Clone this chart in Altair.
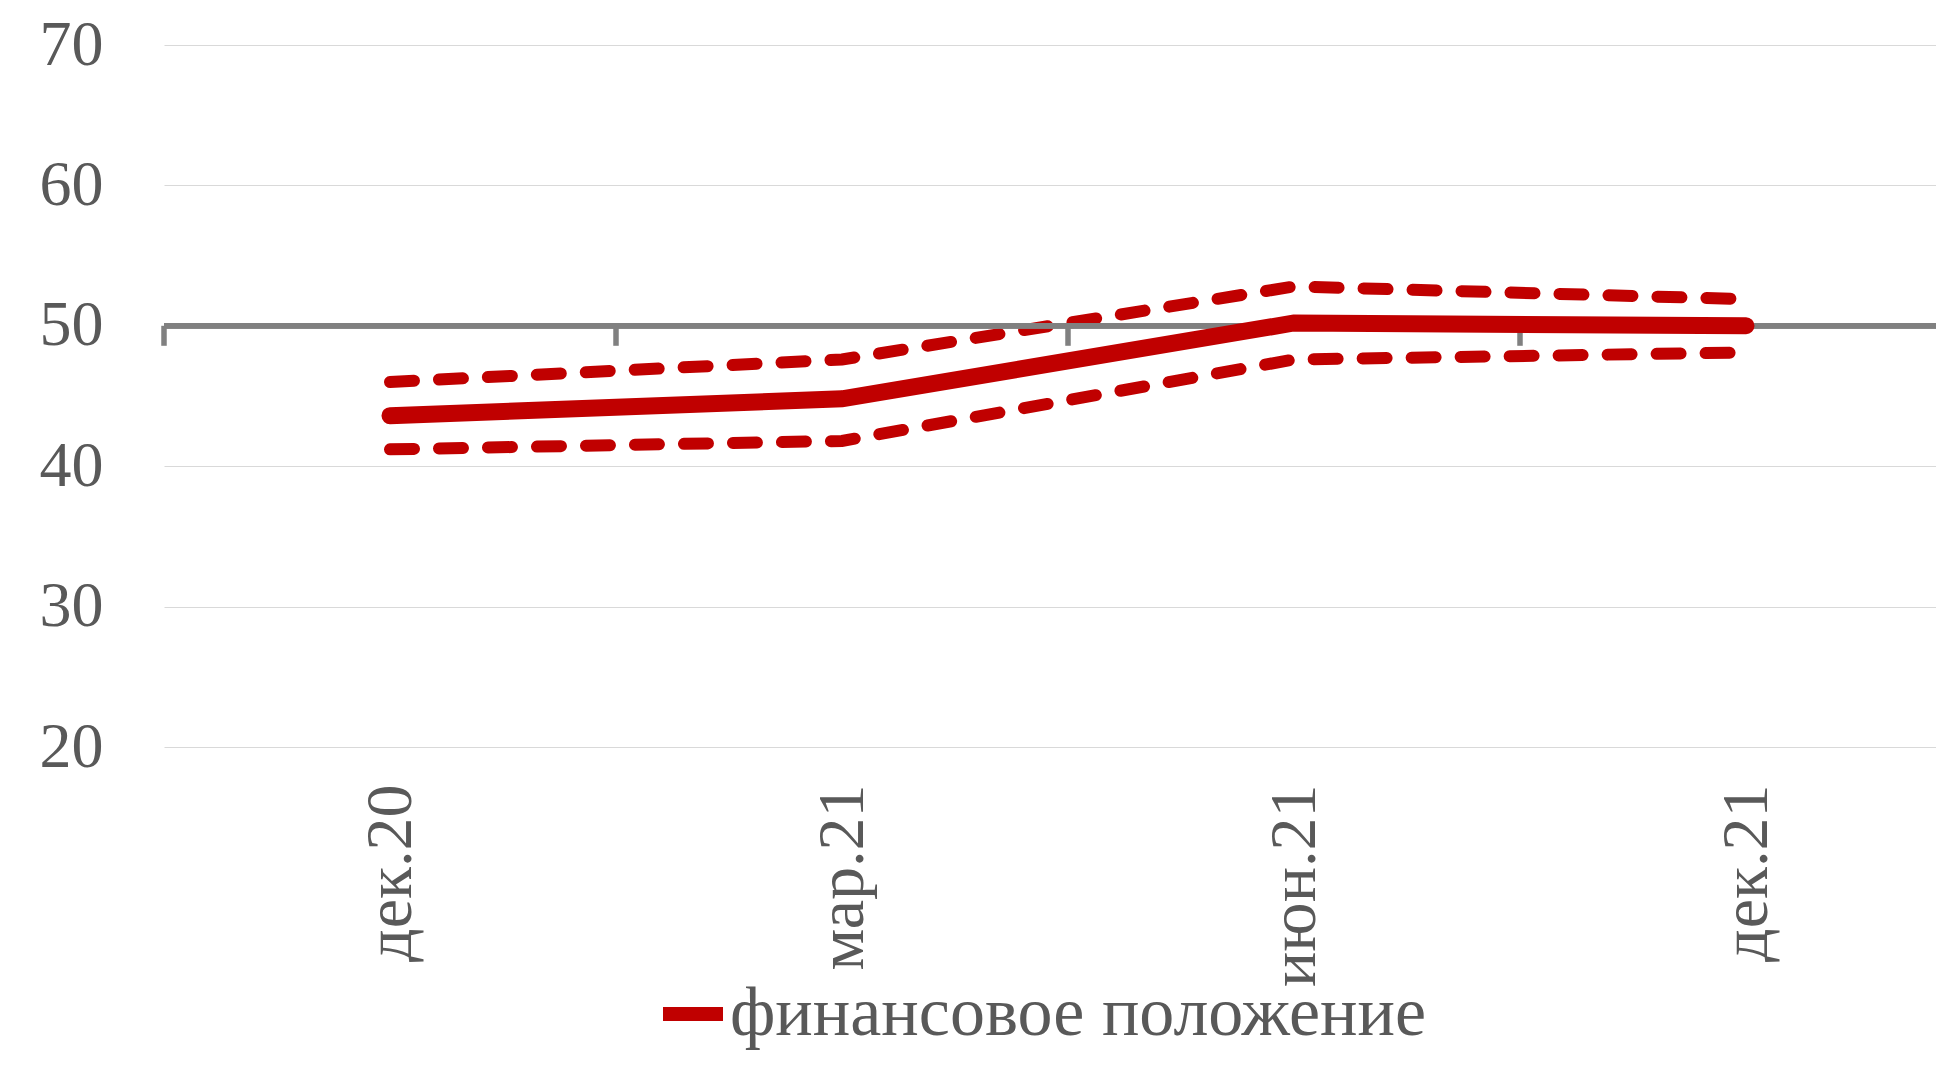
import altair as alt
import pandas as pd

categories = ["дек.20", "мар.21", "июн.21", "дек.21"]
central = [43.6, 44.8, 50.2, 50.0]
upper = [46.0, 47.6, 52.8, 51.9]
lower = [41.2, 41.8, 47.6, 48.1]
series_name = "финансовое положение"
y_ticks = [20, 30, 40, 50, 60, 70]
ref_level = 50

RED = "#C00000"
GRAY = "#808080"
TEXT = "#595959"
GRID = "#D9D9D9"
FONT = "Liberation Serif"

W = 1772
H = 702
BAND = 452
x_lo = -0.5
x_hi = x_lo + W / BAND

idx = list(range(len(categories)))
df_c = pd.DataFrame({"i": idx, "v": central, "s": [series_name] * len(idx)})
df_u = pd.DataFrame({"i": idx, "v": upper})
df_l = pd.DataFrame({"i": idx, "v": lower})
df_t = pd.DataFrame({"i": [i - 0.5 for i in idx]})

label_expr = "[" + ",".join("'" + c + "'" for c in categories) + "][datum.value]"

xscale = alt.Scale(domain=[x_lo, x_hi], nice=False, zero=False)
yscale = alt.Scale(domain=[20, 70], nice=False, zero=False)

x_axis = alt.Axis(values=idx, labelExpr=label_expr, labelAngle=-90, labelAlign="right",
                  labelBaseline="middle", labelPadding=37, labelFontSize=66, labelFont=FONT,
                  labelColor=TEXT, domain=False, ticks=False, tickSize=0, grid=False,
                  title=None, labelOverlap=False, labelFlush=False, labelLimit=2000)
y_axis = alt.Axis(values=y_ticks, grid=True, gridColor=GRID, gridWidth=1, domain=False,
                  ticks=False, tickSize=0, labelPadding=61, labelFontSize=64, labelFont=FONT,
                  labelColor=TEXT, title=None, labelOverlap=False, labelLimit=2000)

X = alt.X("i:Q", scale=xscale, axis=x_axis)
Y = alt.Y("v:Q", scale=yscale, axis=y_axis)

tick_len_units = 20 * (yscale.domain[1] - yscale.domain[0]) / H

ref_line = alt.Chart(df_c).mark_rule(color=GRAY, strokeWidth=5.5).encode(
    x=alt.value(0), x2=alt.value(W), y=alt.datum(ref_level)
)

ticks = alt.Chart(df_t).mark_rule(color=GRAY, strokeWidth=5.5).encode(
    x=X,
    y=alt.datum(ref_level),
    y2=alt.datum(ref_level - tick_len_units),
)

dash_kw = dict(color=RED, strokeWidth=12, strokeDash=[24, 25], strokeCap="round")
up_line = alt.Chart(df_u).mark_line(**dash_kw).encode(x=X, y=Y)
lo_line = alt.Chart(df_l).mark_line(**dash_kw).encode(x=X, y=Y)

main_line = alt.Chart(df_c).mark_line(strokeWidth=17, strokeCap="round", strokeJoin="miter").encode(
    x=X,
    y=Y,
    color=alt.Color("s:N", scale=alt.Scale(range=[RED]),
                    legend=alt.Legend(title=None, orient="none", legendX=492, legendY=932,
                                      symbolType="stroke", symbolStrokeWidth=14, symbolSize=3600,
                                      symbolStrokeColor=RED, labelFont=FONT, labelFontSize=70,
                                      labelColor=TEXT, labelOffset=0, padding=0, labelLimit=3000)),
)

chart = alt.layer(up_line, ref_line, ticks, lo_line, main_line).properties(
    width=W, height=H,
    autosize=alt.AutoSizeParams(type="none"),
    padding={"left": 156, "top": 37, "right": 0, "bottom": 308},
    background="white",
).configure_view(strokeWidth=0)

chart.save("out.html", embed_options={"renderer": "svg", "actions": False})
